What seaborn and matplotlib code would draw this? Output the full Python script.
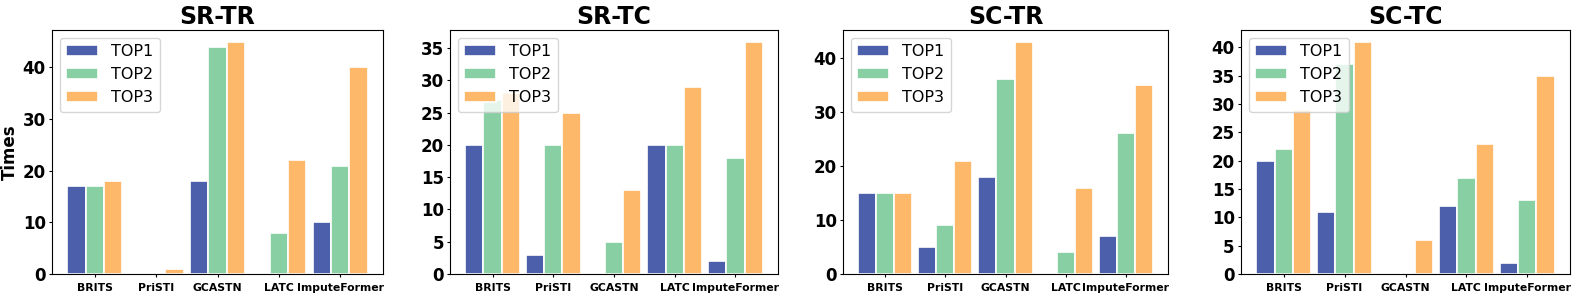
import matplotlib

matplotlib.use("Agg")
import matplotlib.pyplot as plt
import pandas as pd
import seaborn as sns
from matplotlib.ticker import MultipleLocator

# data
MODELS = ["BRITS", "PriSTI", "GCASTN", "LATC", "ImputeFormer"]
RANKS = ["TOP1", "TOP2", "TOP3"]
PANELS = ["SR-TR", "SR-TC", "SC-TR", "SC-TC"]

SR_TR_TOP1 = [17, 0, 18, 0, 10]
SR_TR_TOP2 = [17, 0, 44, 8, 21]
SR_TR_TOP3 = [18, 1, 45, 22, 40]

SR_TC_TOP1 = [20, 3, 0, 20, 2]
SR_TC_TOP2 = [27, 20, 5, 20, 18]
SR_TC_TOP3 = [28, 25, 13, 29, 36]

SC_TR_TOP1 = [15, 5, 18, 0, 7]
SC_TR_TOP2 = [15, 9, 36, 4, 26]
SC_TR_TOP3 = [15, 21, 43, 16, 35]

SC_TC_TOP1 = [20, 11, 0, 12, 2]
SC_TC_TOP2 = [22, 37, 0, 17, 13]
SC_TC_TOP3 = [29, 41, 6, 23, 35]

PANEL_DATA = {
    "SR-TR": [SR_TR_TOP1, SR_TR_TOP2, SR_TR_TOP3],
    "SR-TC": [SR_TC_TOP1, SR_TC_TOP2, SR_TC_TOP3],
    "SC-TR": [SC_TR_TOP1, SC_TR_TOP2, SC_TR_TOP3],
    "SC-TC": [SC_TC_TOP1, SC_TC_TOP2, SC_TC_TOP3],
}
Y_STEP = {"SR-TR": 10, "SR-TC": 5, "SC-TR": 10, "SC-TC": 5}

COLORS = ["#4c5fab", "#88d0a4", "#fdb86a"]

# panel boxes in pixels (left, width), figure is 1578x298
W, H = 1578, 298
BOXES = [(52, 331), (450, 328), (843, 325), (1241, 329)]
AX_TOP, AX_BOTTOM = 30, 274


def to_long(series):
    rows = []
    for rank, values in zip(RANKS, series):
        for model, v in zip(MODELS, values):
            rows.append({"model": model, "rank": rank, "times": v})
    return pd.DataFrame(rows)


fig = plt.figure(figsize=(W / 100, H / 100), dpi=100)

for (left, width), name in zip(BOXES, PANELS):
    ax = fig.add_axes([left / W, 1 - AX_BOTTOM / H, width / W, (AX_BOTTOM - AX_TOP) / H])
    df = to_long(PANEL_DATA[name])
    sns.barplot(
        data=df, x="model", y="times", hue="rank",
        order=MODELS, hue_order=RANKS, palette=COLORS,
        width=0.9, edgecolor="white", linewidth=1.2,
        saturation=1, ax=ax,
    )
    ax.set_xlim(-0.7, 4.7)
    ax.yaxis.set_major_locator(MultipleLocator(Y_STEP[name]))
    ax.set_title(name, fontsize=17, fontweight="bold", pad=4)
    ax.set_xlabel("")
    ax.set_ylabel("")
    ax.tick_params(axis="x", labelsize=7.8, length=2.5, pad=4)
    ax.tick_params(axis="y", labelsize=12, length=2.5, pad=2)
    for lab in ax.get_xticklabels() + ax.get_yticklabels():
        lab.set_fontweight("bold")
    ax.legend(loc="upper left", fontsize=11.5, frameon=True)
    if name == "SR-TR":
        ax.set_ylabel("Times", fontsize=12, fontweight="bold", labelpad=3)

fig.savefig("out.png", dpi=100)
